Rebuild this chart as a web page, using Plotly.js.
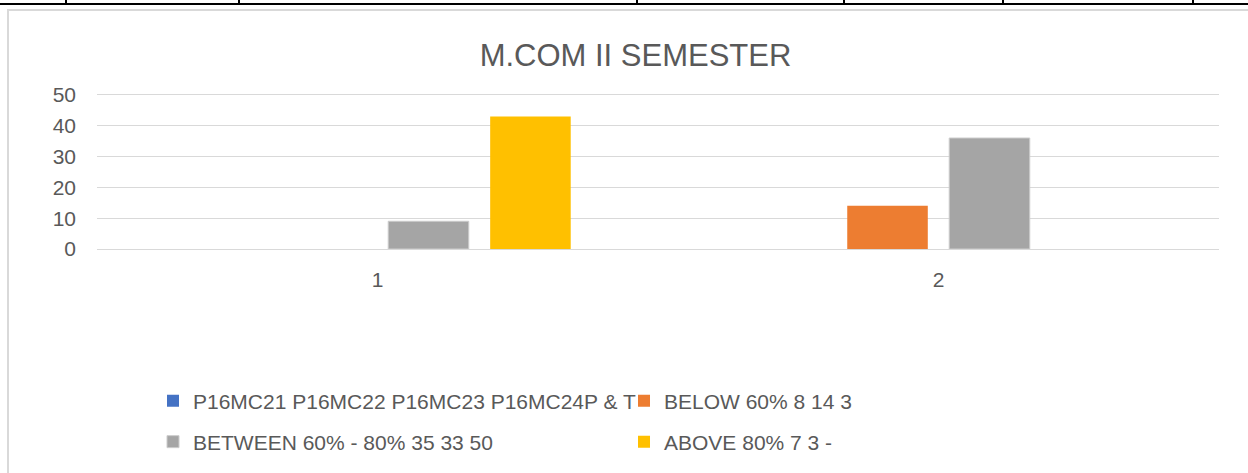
<!DOCTYPE html>
<html><head><meta charset="utf-8">
<script src="https://cdn.plot.ly/plotly-3.0.1.min.js"></script>
<style>
html,body{margin:0;padding:0;background:#fff;}
#wrap{position:relative;width:1248px;height:473px;overflow:hidden;}
#chart{position:absolute;left:0;top:0;width:1248px;height:473px;}
.deco{position:absolute;pointer-events:none;}
</style></head><body>
<div id="wrap">
<div id="chart"></div>
<div class="deco" style="left:7px;top:9px;width:1300px;height:500px;border-left:2px solid #d9d9d9;border-top:2px solid #d9d9d9;"></div>
<div class="deco" style="left:0;top:3px;width:1248px;height:2px;background:#000;"></div>
<div class="deco" style="left:65px;top:0;width:2px;height:4px;background:#000;"></div>
<div class="deco" style="left:238px;top:0;width:2px;height:4px;background:#000;"></div>
<div class="deco" style="left:636px;top:0;width:2px;height:4px;background:#000;"></div>
<div class="deco" style="left:843px;top:0;width:2px;height:4px;background:#000;"></div>
<div class="deco" style="left:1002px;top:0;width:2px;height:4px;background:#000;"></div>
<div class="deco" style="left:1192px;top:0;width:2px;height:4px;background:#000;"></div>
</div>
<script>
const categories = ['1', '2'];
const seriesNames = [
  'P16MC21 P16MC22 P16MC23 P16MC24P & T',
  'BELOW 60% 8 14 3',
  'BETWEEN 60% - 80% 35 33 50',
  'ABOVE 80% 7 3 -'
];
const seriesBlue = [0, 0];
const seriesOrange = [0, 14];
const seriesGray = [9, 36];
const seriesYellow = [43, null];
const yTickVals = [0, 10, 20, 30, 40, 50];
const chartTitle = 'M.COM II SEMESTER';

const FONT = 'Liberation Sans, Arial, sans-serif';
const TXT = '#595959';

const traces = [
  {type:'bar', name:seriesNames[0], x:categories, y:seriesBlue, marker:{color:'#4472C4'}, legend:'legend'},
  {type:'bar', name:seriesNames[1], x:categories, y:seriesOrange, marker:{color:'#ED7D31'}, legend:'legend'},
  {type:'bar', name:seriesNames[2], x:categories, y:seriesGray, marker:{color:'#A5A5A5', line:{color:'#cccccc', width:1}}, legend:'legend2'},
  {type:'bar', name:seriesNames[3], x:categories, y:seriesYellow, marker:{color:'#FFC000'}, legend:'legend2'}
];

const legendBase = {
  orientation:'h', xref:'container', yref:'container', xanchor:'left', yanchor:'middle',
  x:153/1248, entrywidth:426, entrywidthmode:'pixels',
  font:{family:FONT, size:21, color:TXT}, bgcolor:'rgba(0,0,0,0)', borderwidth:0,
  itemclick:false, itemdoubleclick:false
};

const layout = {
  width:1248, height:473,
  paper_bgcolor:'rgba(0,0,0,0)', plot_bgcolor:'rgba(0,0,0,0)',
  margin:{l:97, r:29, t:93, b:224, pad:0},
  title:{text:chartTitle, font:{family:FONT, size:31, color:TXT}, x:635.5/1248, xref:'container', xanchor:'center', y:1-54.8/473, yref:'container', yanchor:'middle'},
  barmode:'group', bargap:0.273, bargroupgap:0.21,
  xaxis:{type:'category', showgrid:false, zeroline:false, showline:false, ticks:'', ticklabelstandoff:16,
    tickfont:{family:FONT, size:21, color:TXT}, fixedrange:true},
  yaxis:{range:[0,50.6], tickvals:yTickVals, showgrid:true, gridcolor:'#d9d9d9', gridwidth:1,
    zeroline:true, zerolinecolor:'#d9d9d9', zerolinewidth:1, showline:false, ticks:'', ticklabelstandoff:20,
    tickfont:{family:FONT, size:21, color:TXT}, fixedrange:true},
  legend:Object.assign({}, legendBase, {y:1-401/473}),
  legend2:Object.assign({}, legendBase, {y:1-442/473}),
  showlegend:true
};

Plotly.newPlot('chart', traces, layout, {displayModeBar:false, staticPlot:true});
</script>
</body></html>
